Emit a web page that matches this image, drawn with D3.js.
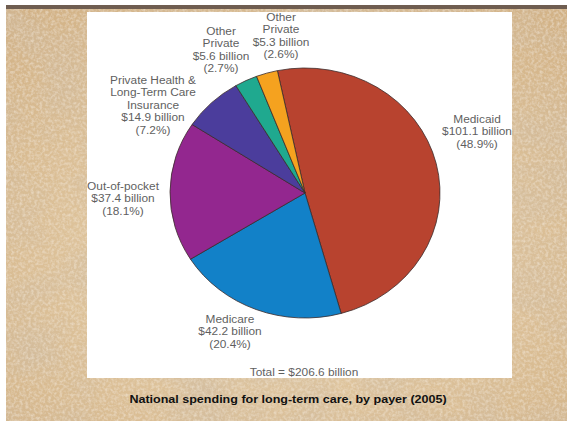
<!DOCTYPE html>
<html>
<head>
<meta charset="utf-8">
<script src="https://cdn.jsdelivr.net/npm/d3@7"></script>
<style>
  body { margin: 0; background: #fff; }
  text { font-family: "Liberation Sans", Arial, sans-serif; }
</style>
</head>
<body>
<div id="chart"></div>
<script>
// Data
const payers = ["Medicaid", "Medicare", "Out-of-pocket", "Private Health & Long-Term Care Insurance", "Other Private", "Other Private"];
const nameLines = [["Medicaid"], ["Medicare"], ["Out-of-pocket"], ["Private Health &", "Long-Term Care", "Insurance"], ["Other", "Private"], ["Other", "Private"]];
const spending = [101.1, 42.2, 37.4, 14.9, 5.6, 5.3];   // $ billion
const shares = [48.9, 20.4, 18.1, 7.2, 2.7, 2.6];       // percent
const totalLabel = "Total = $206.6 billion";
const caption = "National spending for long-term care, by payer (2005)";

const colors = ["#b8432f", "#1281c8", "#93278f", "#4b3d9c", "#1fa98f", "#f5a21f"];

// label anchor (centre of first line), page coords
const labelPos = [[477, 119], [230, 319], [123, 186], [153, 80], [221, 31], [281, 17]];

const W = 567, H = 424;
const cx = 305, cy = 193, r = 125, stretch = 1.08;

const svg = d3.select("#chart")
    .append("svg")
    .attr("width", W)
    .attr("height", H);

// parchment background
const defs = svg.append("defs");
const f = defs.append("filter").attr("id", "paper").attr("x", 0).attr("y", 0).attr("width", 1).attr("height", 1);
f.append("feTurbulence").attr("type", "fractalNoise").attr("baseFrequency", "0.012 0.02").attr("numOctaves", 3).attr("seed", 7).attr("result", "n");
f.append("feColorMatrix").attr("in", "n").attr("type", "matrix")
    .attr("values", "0 0 0 0 0.62  0 0 0 0 0.5  0 0 0 0 0.36  0 0 0 -1.3 0.8")
    .attr("result", "tint");
f.append("feTurbulence").attr("type", "fractalNoise").attr("baseFrequency", "0.35").attr("numOctaves", 2).attr("seed", 3).attr("result", "g");
f.append("feColorMatrix").attr("in", "g").attr("type", "matrix")
    .attr("values", "0 0 0 0 0.95  0 0 0 0 0.88  0 0 0 0 0.76  0 0 0 -0.9 0.55")
    .attr("result", "grain");
f.append("feComposite").attr("in", "tint").attr("in2", "SourceGraphic").attr("operator", "atop").attr("result", "a");
f.append("feComposite").attr("in", "grain").attr("in2", "a").attr("operator", "atop");

const grad = defs.append("radialGradient").attr("id", "bg").attr("cx", "50%").attr("cy", "60%").attr("r", "75%");
grad.append("stop").attr("offset", "0%").attr("stop-color", "#e8d2ae");
grad.append("stop").attr("offset", "100%").attr("stop-color", "#d2b286");

svg.append("rect").attr("x", 6).attr("y", 5).attr("width", W - 6).attr("height", 416)
    .attr("fill", "url(#bg)").attr("filter", "url(#paper)");
svg.append("rect").attr("x", 6).attr("y", 5).attr("width", W - 6).attr("height", 4)
    .attr("fill", "#6f5d50");

// white panel
svg.append("rect").attr("x", 87).attr("y", 12).attr("width", 425).attr("height", 366).attr("fill", "#fff");

// pie
const pie = d3.pie().sort(null).value(d => d)
    .startAngle(-11.8 * Math.PI / 180)
    .endAngle(-11.8 * Math.PI / 180 + 2 * Math.PI);
const arc = d3.arc().innerRadius(0).outerRadius(r);

const g = svg.append("g").attr("transform", `translate(${cx},${cy}) scale(${stretch},1)`);
g.selectAll("path")
    .data(pie(spending))
    .enter()
    .append("path")
    .attr("d", arc)
    .attr("fill", (d, i) => colors[i])
    .attr("stroke", "#3b2b2b")
    .attr("stroke-width", 0.8)
    .attr("vector-effect", "non-scaling-stroke");

// labels
const lh = 12.4;
payers.forEach((p, i) => {
    const lines = nameLines[i].concat([`$${spending[i]} billion`, `(${shares[i]}%)`]);
    const t = svg.append("text")
        .attr("transform", `translate(${labelPos[i][0]},${labelPos[i][1] + 4}) scale(${stretch},1)`)
        .attr("text-anchor", "middle")
        .attr("font-size", 11)
        .attr("fill", "#5f5f5f");
    lines.forEach((l, j) => t.append("tspan").attr("x", 0).attr("y", j * lh).text(l));
});

svg.append("text")
    .attr("transform", `translate(304,375.5) scale(${stretch},1)`)
    .attr("text-anchor", "middle")
    .attr("font-size", 11)
    .attr("fill", "#5f5f5f")
    .text(totalLabel);

svg.append("text")
    .attr("transform", `translate(288,403) scale(${stretch},1)`)
    .attr("text-anchor", "middle")
    .attr("font-size", 11.6)
    .attr("font-weight", "bold")
    .attr("fill", "#111")
    .text(caption);
</script>
</body>
</html>
